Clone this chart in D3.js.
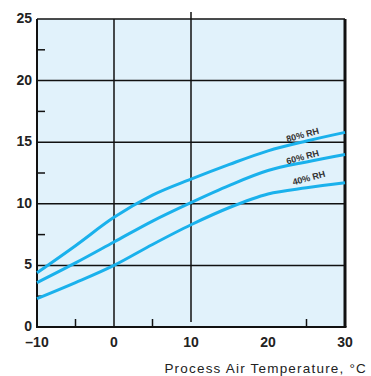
<!DOCTYPE html>
<html>
<head>
<meta charset="utf-8">
<script src="https://cdn.jsdelivr.net/npm/d3@7"></script>
<style>
  body { margin: 0; background: #fff; }
  svg { display: block; }
  .tick-label { font-family: "Liberation Sans Narrow", "Liberation Sans", sans-serif; font-weight: bold; font-size: 14px; fill: #222; }
</style>
</head>
<body>
<div id="chart"></div>
<script>
// data
const temps = [-10, -5, 0, 5, 10, 15, 20, 25, 30];
const rh80 = [4.4, 6.6, 8.9, 10.7, 12.0, 13.2, 14.3, 15.1, 15.8];
const rh60 = [3.6, 5.2, 6.9, 8.6, 10.1, 11.5, 12.7, 13.4, 14.0];
const rh40 = [2.3, 3.6, 5.0, 6.7, 8.3, 9.7, 10.8, 11.3, 11.7];
const seriesNames = ['80% RH', '60% RH', '40% RH'];
const xTicks = [-10, 0, 10, 20, 30];
const yTicks = [0, 5, 10, 15, 20, 25];

const width = 371, height = 376;
const margin = {top: 19, right: 26, bottom: 49, left: 37};

const svg = d3.select('#chart').append('svg')
  .attr('width', width)
  .attr('height', height);

const x = d3.scaleLinear().domain([-10, 30]).range([margin.left, width - margin.right]);
const y = d3.scaleLinear().domain([0, 25]).range([height - margin.bottom, margin.top]);

// plot background
svg.append('rect')
  .attr('x', x(-10)).attr('y', y(25))
  .attr('width', x(30) - x(-10)).attr('height', y(0) - y(25))
  .attr('fill', '#e1f2fb');

// horizontal grid
svg.append('g').selectAll('line')
  .data([5, 10, 15, 20])
  .enter().append('line')
  .attr('x1', x(-10)).attr('x2', x(30))
  .attr('y1', d => y(d)).attr('y2', d => y(d))
  .attr('stroke', '#111').attr('stroke-width', 1.5);

// vertical grid at 0 and 10
svg.append('line')
  .attr('x1', x(0)).attr('x2', x(0)).attr('y1', y(25)).attr('y2', y(0))
  .attr('stroke', '#111').attr('stroke-width', 1.5);
svg.append('line')
  .attr('x1', x(10)).attr('x2', x(10)).attr('y1', y(25) - 7).attr('y2', y(0) - 5)
  .attr('stroke', '#111').attr('stroke-width', 1.5);

// minor ticks
svg.append('g').selectAll('line')
  .data([2.5, 7.5, 12.5, 17.5, 22.5])
  .enter().append('line')
  .attr('x1', x(-10)).attr('x2', x(-10) + 8)
  .attr('y1', d => y(d)).attr('y2', d => y(d))
  .attr('stroke', '#111').attr('stroke-width', 1.5);
svg.append('g').selectAll('line')
  .data([-5, 5, 25])
  .enter().append('line')
  .attr('x1', d => x(d)).attr('x2', d => x(d))
  .attr('y1', y(0)).attr('y2', y(0) - 8)
  .attr('stroke', '#111').attr('stroke-width', 1.5);

// frame
svg.append('line').attr('x1', x(-10)).attr('x2', x(30)).attr('y1', y(25)).attr('y2', y(25))
  .attr('stroke', '#111').attr('stroke-width', 1.5);
svg.append('line').attr('x1', x(30)).attr('x2', x(30)).attr('y1', y(25)).attr('y2', y(0))
  .attr('stroke', '#111').attr('stroke-width', 3);
svg.append('line').attr('x1', x(-10)).attr('x2', x(-10)).attr('y1', y(25)).attr('y2', y(0) + 1)
  .attr('stroke', '#111').attr('stroke-width', 2);
svg.append('line').attr('x1', x(-10)).attr('x2', x(30) + 1.5).attr('y1', y(0)).attr('y2', y(0))
  .attr('stroke', '#111').attr('stroke-width', 2);

// curves
const line = d3.line()
  .x((d, i) => x(temps[i]))
  .y(d => y(d))
  .curve(d3.curveMonotoneX);

svg.append('g').selectAll('path')
  .data([rh80, rh60, rh40])
  .enter().append('path')
  .attr('d', d => line(d))
  .attr('fill', 'none')
  .attr('stroke', '#1ab1ec')
  .attr('stroke-width', 3);

// inline labels
const labelPos = [[22.5, 15.0], [22.5, 13.2], [23.3, 11.5]];
svg.append('g').selectAll('text')
  .data(seriesNames)
  .enter().append('text')
  .attr('transform', (d, i) => `translate(${x(labelPos[i][0])},${y(labelPos[i][1])}) rotate(-15)`)
  .attr('font-family', 'Liberation Sans Narrow, Liberation Sans, sans-serif')
  .attr('font-weight', 'bold')
  .attr('font-size', 9)
  .attr('fill', '#333')
  .text(d => d);

// y tick labels
svg.append('g').selectAll('text')
  .data(yTicks)
  .enter().append('text')
  .attr('class', 'tick-label')
  .attr('x', x(-10) - 5)
  .attr('y', d => y(d) + 4)
  .attr('text-anchor', 'end')
  .text(d => d);

// x tick labels
svg.append('g').selectAll('text')
  .data(xTicks)
  .enter().append('text')
  .attr('class', 'tick-label')
  .attr('x', d => x(d))
  .attr('y', y(0) + 20)
  .attr('text-anchor', 'middle')
  .text(d => d < 0 ? '\u2013' + Math.abs(d) : d);

// axis title
svg.append('text')
  .attr('x', 367)
  .attr('y', 373)
  .attr('text-anchor', 'end')
  .attr('font-family', 'Liberation Sans, sans-serif')
  .attr('font-size', 13.5)
  .attr('letter-spacing', 1.2)
  .attr('fill', '#222')
  .text('Process Air Temperature, \u00b0C');
</script>
</body>
</html>
